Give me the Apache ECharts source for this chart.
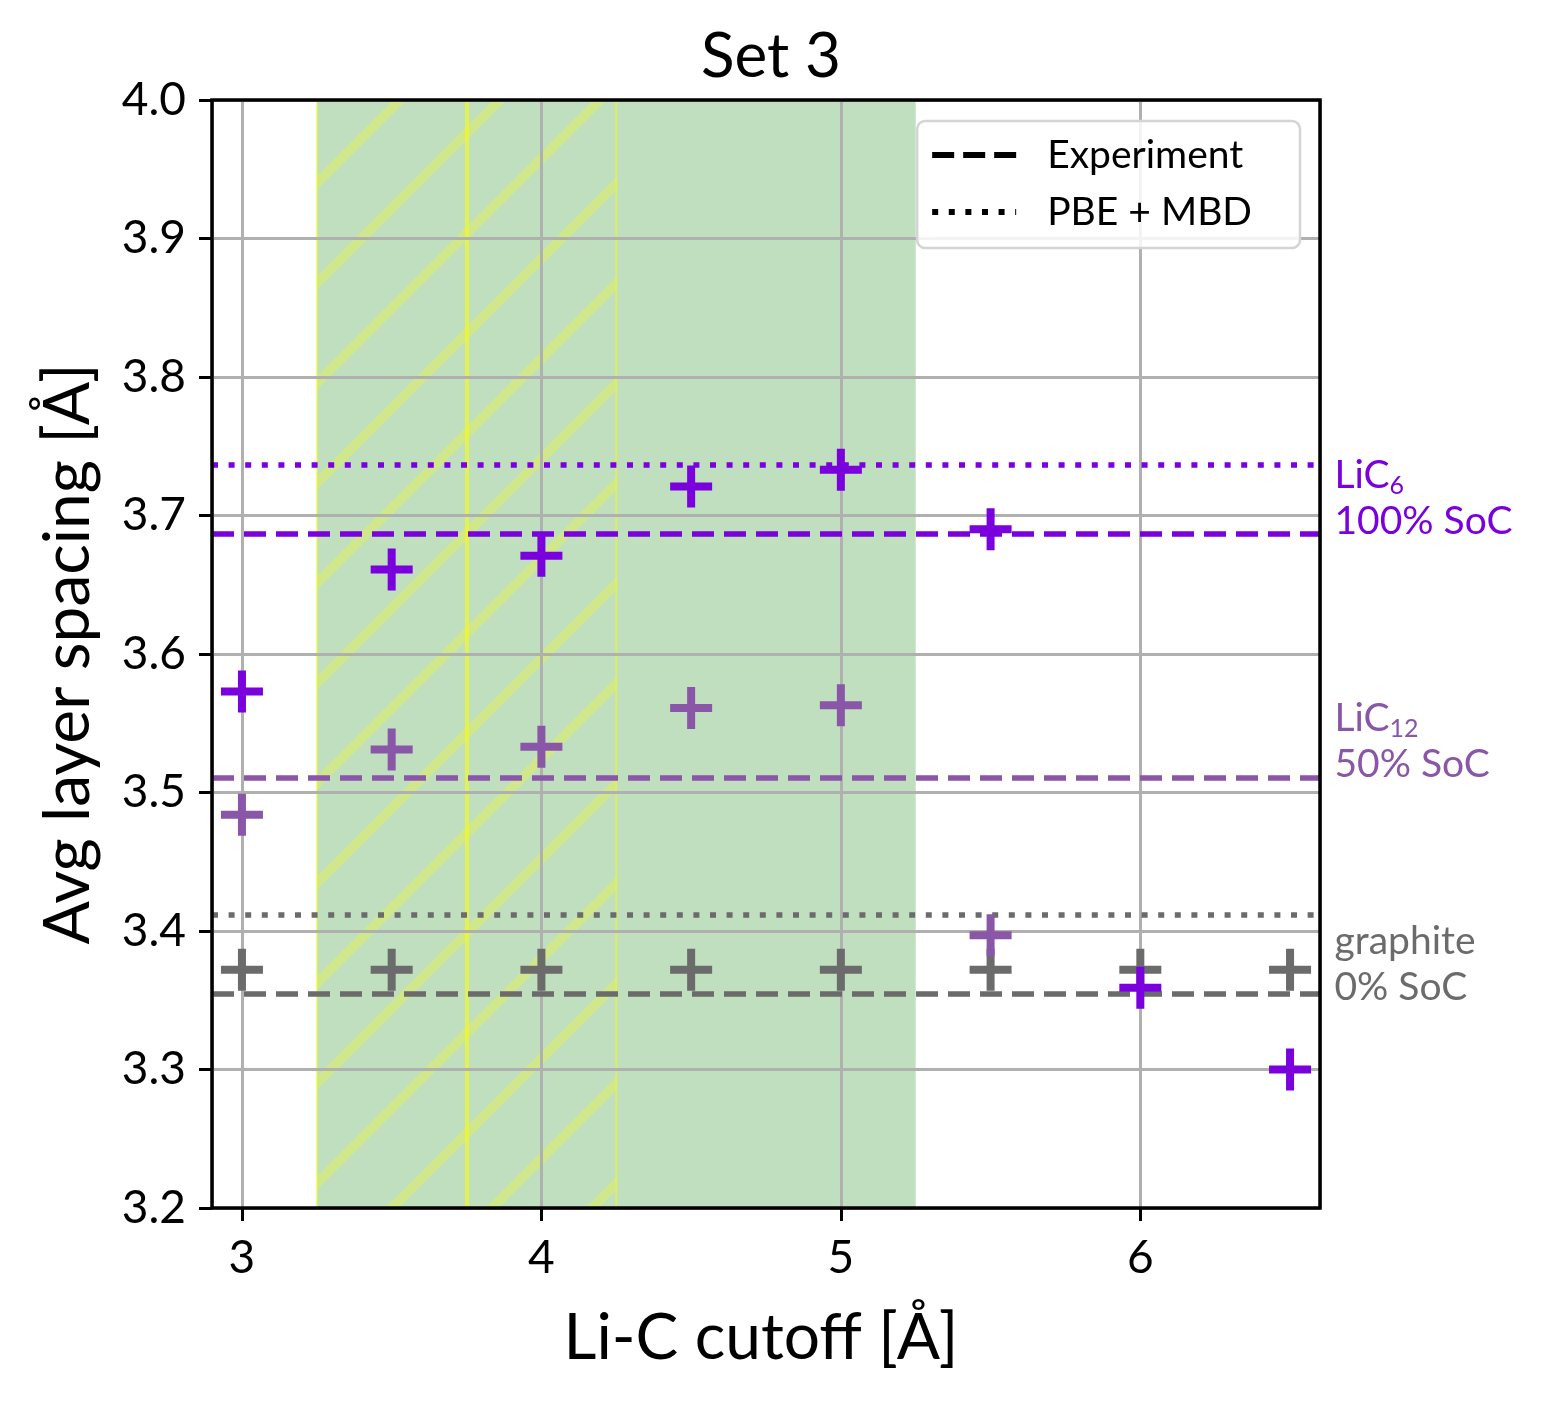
<!DOCTYPE html>
<html>
<head>
<meta charset="utf-8">
<script src="https://cdn.jsdelivr.net/npm/echarts@6/dist/echarts.min.js"></script>
<style>
  html, body { margin: 0; padding: 0; background: #fff; }
  #main { width: 1546px; height: 1403px; }
</style>
</head>
<body>
<div id="main"></div>
<script>
// Li-C cutoff values [Å]
const cutoffs = [3, 3.5, 4, 4.5, 5, 5.5, 6, 6.5];
const lic12Cutoffs = [3, 3.5, 4, 4.5, 5, 5.5];

// avg layer spacing [Å]
const lic6Spacing = [3.573, 3.661, 3.671, 3.721, 3.733, 3.690, 3.359, 3.300];
const lic12Spacing = [3.484, 3.531, 3.533, 3.561, 3.563, 3.397];
const graphiteSpacing = [3.372, 3.372, 3.372, 3.372, 3.372, 3.372, 3.372, 3.372];

// reference lines: LiC6, LiC12, graphite
const phaseNames = ['LiC6', 'LiC12', 'graphite'];
const experimentSpacing = [3.687, 3.511, 3.355];
const pbeMbdSpacing = [3.737, null, 3.412];
const labelSpacing = [3.712, 3.537, 3.376];
const phaseColors = ['#7a00de', '#8a56a8', '#6b6b6b'];

// shaded cutoff ranges
const greenSpan = [3.25, 5.25];
const hatchSpan = [3.25, 4.25];
const hatchMid = 3.75;

const xMin = 2.9, xMax = 6.6;

const FONT = 'Lato';
const plusPath = 'path://M0,17L17,17L17,0L25,0L25,17L42,17L42,25L25,25L25,42L17,42L17,25L0,25Z';
const dashIcon = 'path://M0,0h22v6h-22zM31,0h22v6h-22zM62,0h22v6h-22z';
const dotIcon = 'path://M0,0h6v6h-6zM16.6,0h6v6h-6zM33.2,0h6v6h-6zM49.8,0h6v6h-6zM66.4,0h6v6h-6zM83,0h1v6h-1z';

// hatch pattern tile
const tile = document.createElement('canvas');
tile.width = 100; tile.height = 100;
(function () {
  const c = tile.getContext('2d');
  c.strokeStyle = 'rgba(255,255,0,0.27)';
  c.lineWidth = 9.5;
  [-100, 0, 100].forEach(k => {
    c.beginPath();
    c.moveTo(k - 20, 120);
    c.lineTo(k + 120, -20);
    c.stroke();
  });
})();

const pts = (xs, ys) => xs.map((x, i) => [x, ys[i]]);

const labels = ['{m|LiC}{s|6}\n{m|100% SoC}', '{m|LiC}{s|12}\n{m|50% SoC}', '{m|graphite}\n{m|0% SoC}'];

const phaseSeries = (idx, data) => {
  const color = phaseColors[idx];
  const lines = [{ yAxis: experimentSpacing[idx], lineStyle: { color: color, width: 5.5, type: [22, 10] } }];
  if (pbeMbdSpacing[idx] != null) {
    lines.push({ yAxis: pbeMbdSpacing[idx], lineStyle: { color: color, width: 5.5, type: [6, 10.6] } });
  }
  return {
    name: phaseNames[idx],
    type: 'scatter',
    z: 2,
    symbol: plusPath,
    symbolSize: 42,
    itemStyle: { color: color, opacity: 1 },
    data: data,
    markLine: {
      z: 1.5,
      silent: true,
      precision: 4,
      symbol: 'none',
      label: { show: false },
      data: lines
    },
    markPoint: {
      symbol: 'circle',
      symbolSize: 1,
      itemStyle: { color: 'transparent' },
      label: {
        show: true,
        position: 'right',
        distance: 14,
        formatter: labels[idx],
        align: 'left',
        rich: {
          m: { fontFamily: FONT, fontSize: 39, color: color, lineHeight: 46 },
          s: { fontFamily: FONT, fontSize: 25, color: color, lineHeight: 46, verticalAlign: 'bottom', padding: [14, 0, 0, 0] }
        }
      },
      data: [{ coord: [xMax, labelSpacing[idx]] }]
    }
  };
};

const chart = echarts.init(document.getElementById('main'));

chart.setOption({
  animation: false,
  backgroundColor: '#fff',
  title: {
    text: 'Set 3',
    left: 766,
    top: 21,
    textAlign: 'center',
    textStyle: { fontFamily: FONT, fontWeight: 'normal', fontSize: 62, color: '#000' }
  },
  grid: {
    left: 212, right: 226, top: 100, bottom: 195,
    show: true, z: 10,
    backgroundColor: 'transparent',
    borderColor: '#000', borderWidth: 3.5
  },
  legend: {
    data: [
      { name: 'Experiment', icon: dashIcon },
      { name: 'PBE + MBD', icon: dotIcon }
    ],
    orient: 'vertical',
    right: 246,
    top: 121,
    itemWidth: 84,
    itemHeight: 6,
    itemGap: 13,
    padding: [12, 48, 14, 15],
    backgroundColor: 'rgba(255,255,255,0.85)',
    borderColor: '#d4d4d4',
    borderWidth: 2.5,
    borderRadius: 8,
    textStyle: { fontFamily: FONT, fontSize: 39, lineHeight: 44, color: '#000', padding: [0, 0, 0, 26] }
  },
  xAxis: {
    type: 'value',
    min: xMin, max: xMax,
    splitNumber: 4,
    z: 1,
    axisLine: { show: false },
    axisTick: { show: true, length: 13, lineStyle: { color: '#000', width: 3 } },
    axisLabel: { fontFamily: FONT, fontSize: 46, color: '#000', margin: 27, showMinLabel: false, showMaxLabel: false },
    splitLine: { show: true, lineStyle: { color: '#b0b0b0', width: 3 } },
    name: 'Li-C cutoff [Å]',
    nameLocation: 'middle',
    nameGap: 98,
    nameTextStyle: { fontFamily: FONT, fontSize: 64, color: '#000', padding: [0, 10, 0, 0] }
  },
  yAxis: {
    type: 'value',
    min: 3.2, max: 4.0, interval: 0.1,
    z: 1,
    axisLine: { show: false },
    axisTick: { show: true, length: 13, lineStyle: { color: '#000', width: 3 } },
    axisLabel: { fontFamily: FONT, fontSize: 46, color: '#000', margin: 26, formatter: v => v.toFixed(1) },
    splitLine: { show: true, lineStyle: { color: '#b0b0b0', width: 3 } },
    name: 'Avg layer spacing [Å]',
    nameLocation: 'middle',
    nameGap: 112,
    nameTextStyle: { fontFamily: FONT, fontSize: 64, color: '#000' }
  },
  series: [
    {
      name: 'spans',
      type: 'scatter',
      data: [],
      silent: true,
      markArea: {
        z: 0,
        silent: true,
        data: [
          [{ xAxis: greenSpan[0], itemStyle: { color: 'rgba(0,128,0,0.25)' } }, { xAxis: greenSpan[1] }],
          [{ xAxis: hatchSpan[0], itemStyle: { color: { image: tile, repeat: 'repeat' }, borderColor: 'rgba(255,255,0,0.45)', borderWidth: 2 } }, { xAxis: hatchSpan[1] }]
        ]
      },
      markLine: {
        z: 0.5,
        silent: true,
        precision: 4,
        symbol: 'none',
        label: { show: false },
        data: [{ xAxis: hatchMid, lineStyle: { color: 'rgba(255,255,0,0.55)', width: 4, type: 'solid' } }]
      }
    },
    phaseSeries(2, pts(cutoffs, graphiteSpacing)),
    phaseSeries(1, pts(lic12Cutoffs, lic12Spacing)),
    phaseSeries(0, pts(cutoffs, lic6Spacing)),
    { name: 'Experiment', type: 'line', data: [], symbol: 'none', itemStyle: { color: '#000' }, lineStyle: { color: '#000' } },
    { name: 'PBE + MBD', type: 'line', data: [], symbol: 'none', itemStyle: { color: '#000' }, lineStyle: { color: '#000' } }
  ]
});
</script>
</body>
</html>
